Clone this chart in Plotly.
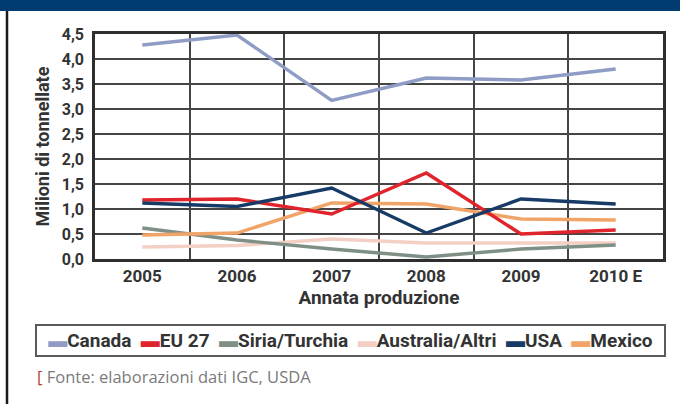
import plotly.graph_objects as go

years = ["2005", "2006", "2007", "2008", "2009", "2010 E"]
canada = [4.28, 4.48, 3.17, 3.62, 3.58, 3.80]
eu27 = [1.18, 1.20, 0.90, 1.72, 0.50, 0.58]
siria = [0.62, 0.38, 0.20, 0.04, 0.20, 0.28]
australia = [0.24, 0.27, 0.40, 0.32, 0.32, 0.32]
usa = [1.12, 1.05, 1.42, 0.52, 1.20, 1.10]
mexico = [0.48, 0.52, 1.12, 1.10, 0.80, 0.78]
yticks = [0, 0.5, 1, 1.5, 2, 2.5, 3, 3.5, 4, 4.5]

names = ["Canada", "EU 27", "Siria/Turchia", "Australia/Altri", "USA", "Mexico"]
values = [canada, eu27, siria, australia, usa, mexico]
colors = ["#8e9cc6", "#e0242c", "#7e9086", "#f3cfc4", "#173a66", "#f1a468"]
draw_order = [3, 2, 5, 1, 4, 0]

FONT = "Roboto, Liberation Sans, sans-serif"
TXT = "#333333"

xs = list(range(len(years)))
fig = go.Figure()
for i in draw_order:
    fig.add_trace(go.Scatter(
        x=xs, y=values[i], mode="lines", name=names[i],
        line=dict(color=colors[i], width=3.4), showlegend=False))

fig.update_layout(
    width=680, height=404,
    margin=dict(l=95, r=17, t=34, b=145),
    paper_bgcolor="white", plot_bgcolor="white",
    separators=",.",
    font=dict(family=FONT, color=TXT),
    xaxis=dict(
        range=[-0.5, len(years) - 0.5], tickvals=xs, ticktext=years,
        showgrid=False, zeroline=False, ticks="",
        tickfont=dict(size=17, family=FONT, color=TXT, weight="bold"),
        showline=True, linecolor="#2e2e2e", linewidth=2.5, mirror=True,
        minor=dict(tickvals=[x + 0.5 for x in xs[:-1]], showgrid=True,
                   gridcolor="#454545", gridwidth=1.5),
        title=dict(text="Annata produzione", standoff=4,
                   font=dict(size=19, family=FONT, color=TXT, weight="bold")),
    ),
    yaxis=dict(
        range=[0, 4.5], tickvals=yticks, tickformat=".1f",
        showgrid=True, gridcolor="#454545", gridwidth=1.5, zeroline=False,
        tickfont=dict(size=16, family=FONT, color=TXT, weight="bold"),
        showline=True, linecolor="#2e2e2e", linewidth=2.5, mirror=True,
        ticks="", ticklabelstandoff=5,
        title=dict(text="Milioni di tonnellate", standoff=8,
                   font=dict(size=18, family=FONT, color=TXT, weight="bold")),
    ),
)

# header band and left rule
fig.add_shape(type="rect", xref="paper", yref="paper", layer="above",
              x0=-0.2, x1=1.1, y0=(259 - 11) / 225, y1=1.3,
              fillcolor="#003b72", line=dict(width=0))
fig.add_shape(type="line", xref="paper", yref="paper",
              x0=-88 / 568, x1=-88 / 568, y0=-0.7, y1=(259 - 11) / 225,
              line=dict(color="#1a1a1a", width=2.5))

# legend box
parts = []
for n, c in zip(names, colors):
    parts.append(f"<span style='color:{c}'>▬</span>{n}")
legend_text = "  ".join(parts)
fig.add_annotation(
    xref="paper", yref="paper", x=(35 - 95) / 568, y=(259 - 340) / 225,
    xanchor="left", yanchor="middle", showarrow=False,
    text="<b>" + legend_text + "</b>", width=621, align="center",
    font=dict(size=19, family=FONT, color=TXT),
    bordercolor="#5a5a5a", borderwidth=2, borderpad=3, bgcolor="white")

fig.add_annotation(
    xref="paper", yref="paper", x=(35 - 95) / 568, y=(259 - 376) / 225,
    xanchor="left", yanchor="middle", showarrow=False,
    text="<span style='color:#b03a3a'>[</span> Fonte: elaborazioni dati IGC, USDA",
    font=dict(size=16.5, family="Open Sans, sans-serif", color="#7a7a7a"))

fig.write_html("out.html", config={"displayModeBar": False},
               post_script="document.body.style.margin='0';")
